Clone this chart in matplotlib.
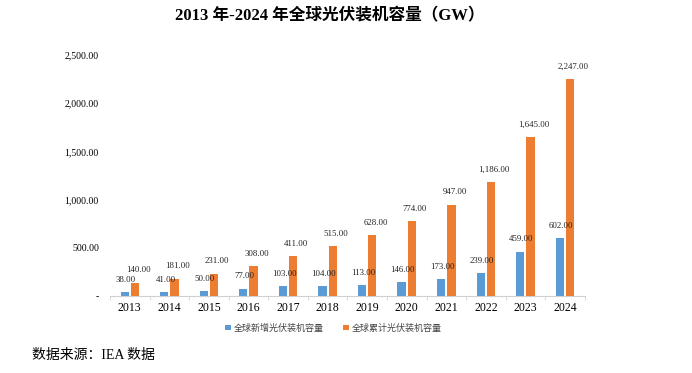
import matplotlib.pyplot as plt
import numpy as np
from matplotlib.ticker import FuncFormatter

plt.rcParams["font.family"] = ["Liberation Serif", "Noto Sans CJK SC"]

years = ["2013", "2014", "2015", "2016", "2017", "2018",
         "2019", "2020", "2021", "2022", "2023", "2024"]
new_added = [38, 41, 50, 77, 103, 104, 113, 146, 173, 239, 459, 602]
cumulative = [140, 181, 231, 308, 411, 515, 628, 774, 947, 1186, 1645, 2247]
yticks = [0, 500, 1000, 1500, 2000, 2500]

BLUE = "#5b9bd5"
ORANGE = "#ed7d31"


def fmt(v, pos=None):
    if v == 0:
        return "-"
    return f"{v:,.2f}"


fig = plt.figure(figsize=(6.92, 3.73), dpi=100)
ax = fig.add_axes([0.159, 0.2064, 0.686, 0.646])

x = np.arange(len(years))
w = 0.21
off = 0.13
b1 = ax.bar(x - off, new_added, w, color=BLUE, label="全球新增光伏装机容量")
b2 = ax.bar(x + off, cumulative, w, color=ORANGE, label="全球累计光伏装机容量")

for rect, v in zip(b1, new_added):
    ax.annotate(f"{v:,.2f}", (rect.get_x() + rect.get_width() / 2 + 0.03, v),
                xytext=(0, 6), textcoords="offset points",
                ha="center", va="bottom", fontsize=6.3, color="#222222")
for rect, v in zip(b2, cumulative):
    ax.annotate(f"{v:,.2f}", (rect.get_x() + rect.get_width() / 2 + 0.08, v),
                xytext=(0, 6), textcoords="offset points",
                ha="center", va="bottom", fontsize=6.3, color="#222222")

ax.set_xlim(-0.5, len(years) - 0.5)
ax.set_ylim(0, 2500)
ax.set_yticks(yticks)
ax.yaxis.set_major_formatter(FuncFormatter(fmt))
ax.set_xticks(x)
ax.set_xticklabels(years)
ax.set_xticks(np.arange(len(years) + 1) - 0.5, minor=True)
ax.tick_params(axis="x", which="major", length=0, labelsize=8.5, pad=4)
ax.tick_params(axis="x", which="minor", length=3, color="#d0d0d0")
ax.tick_params(axis="y", length=0, labelsize=7, pad=8)

for s in ["top", "right", "left"]:
    ax.spines[s].set_visible(False)
ax.spines["bottom"].set_color("#d0d0d0")

fig.text(0.477, 0.955, "2013 年-2024 年全球光伏装机容量（GW）",
         ha="center", va="center", fontsize=12, fontweight="bold")

fig.legend(loc="center", bbox_to_anchor=(0.482, 0.12), ncol=2, frameon=False,
           fontsize=6.5, handlelength=0.6, handleheight=0.6, handletextpad=0.3,
           columnspacing=2.2, labelcolor="#444444")

fig.text(0.046, 0.048, "数据来源：IEA 数据", ha="left", va="center", fontsize=10)

fig.savefig("out.png", dpi=100, facecolor="white")
